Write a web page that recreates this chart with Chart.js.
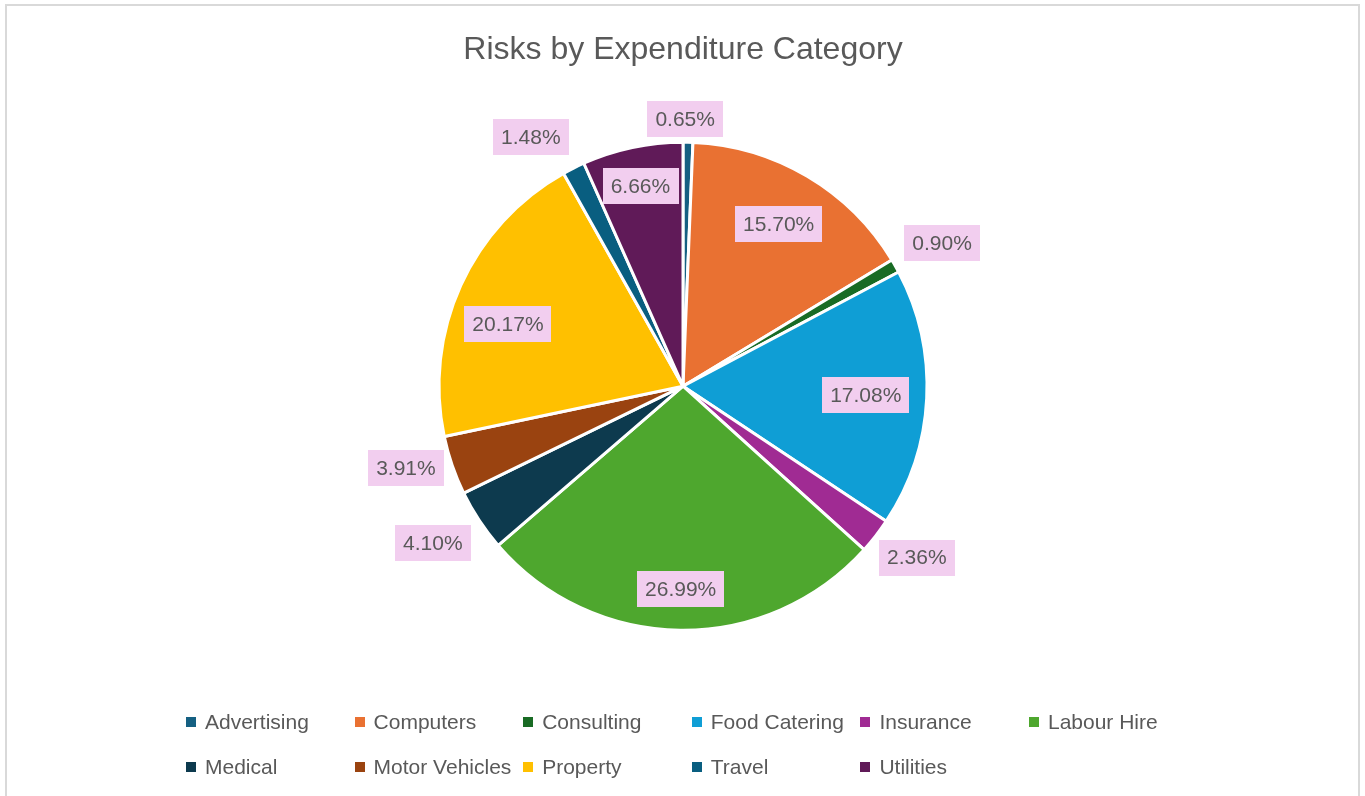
<!DOCTYPE html>
<html>
<head>
<meta charset="utf-8">
<title>Risks by Expenditure Category</title>
<script src="https://cdn.jsdelivr.net/npm/chart.js@4"></script>
<style>
  html, body { margin: 0; padding: 0; background: #fff; }
  body { width: 1365px; height: 796px; position: relative; overflow: hidden; font-family: 'Liberation Sans', Arial, sans-serif; }
  .frame { position: absolute; left: 5px; top: 4px; width: 1355px; height: 820px; border: 2px solid #d9d9d9; box-sizing: border-box; }
  #wrap { position: absolute; left: 0; top: 0; width: 1365px; height: 796px; }
  .legend { position: absolute; left: 186px; top: 699px; display: grid; grid-template-columns: repeat(6, 168.6px); grid-auto-rows: 45px; }
  .legend-item { display: flex; align-items: center; font-size: 21px; color: #595959; white-space: nowrap; }
  .legend-item i { display: inline-block; width: 10px; height: 10px; margin-right: 9px; }
</style>
</head>
<body>
<div class="frame"></div>
<div id="wrap"><canvas id="chart" width="1365" height="796"></canvas></div>
<div class="legend" id="legend"></div>
<script>
// data
const categories = ['Advertising', 'Computers', 'Consulting', 'Food Catering', 'Insurance', 'Labour Hire',
  'Medical', 'Motor Vehicles', 'Property', 'Travel', 'Utilities'];
const shares = [0.65, 15.70, 0.90, 17.08, 2.36, 26.99, 4.10, 3.91, 20.17, 1.48, 6.66];

const colors = ['#156082', '#E97132', '#196B24', '#0F9ED5', '#A02B93', '#4EA72E',
  '#0D3A4E', '#9A4310', '#FFC000', '#095E80', '#601A58'];
// label placement (Excel "best fit"): distance as fraction of radius, and a small angle shift in degrees
const labelRadius = [1.094, 0.77, 1.213, 0.75, 1.188, 0.83, 1.21, 1.184, 0.761, 1.196, 0.84];
const labelShift = [-0.7, 0, 0.6, 0, -1.6, 0, 1.3, 2.5, -4.9, -4.8, 0];

const textGrey = '#595959';
const FONT = "'Liberation Sans', Arial, sans-serif";

const pctLabels = {
  id: 'pctLabels',
  afterDatasetsDraw(chart) {
    const ctx = chart.ctx;
    const arcs = chart.getDatasetMeta(0).data;
    ctx.save();
    ctx.font = '21px ' + FONT;
    ctx.textAlign = 'center';
    ctx.textBaseline = 'middle';
    arcs.forEach((arc, i) => {
      const { x, y, startAngle, endAngle, outerRadius } = arc.getProps(['x', 'y', 'startAngle', 'endAngle', 'outerRadius'], true);
      const mid = (startAngle + endAngle) / 2 + labelShift[i] * Math.PI / 180;
      const r = outerRadius * labelRadius[i];
      const cx = x + Math.cos(mid) * r;
      const cy = y + Math.sin(mid) * r;
      const txt = shares[i].toFixed(2) + '%';
      const w = ctx.measureText(txt).width + 16;
      const h = 36;
      ctx.fillStyle = '#F2CEEF';
      ctx.fillRect(Math.round(cx - w / 2), Math.round(cy - h / 2), Math.round(w), h);
      ctx.fillStyle = textGrey;
      ctx.fillText(txt, cx, cy + 1);
    });
    ctx.restore();
  }
};

new Chart(document.getElementById('chart'), {
  type: 'pie',
  data: {
    labels: categories,
    datasets: [{
      data: shares,
      backgroundColor: colors,
      borderColor: '#ffffff',
      borderWidth: 3,
      hoverOffset: 0,
    }],
  },
  options: {
    responsive: false,
    animation: false,
    events: [],
    radius: 244,
    layout: { padding: { left: 1, right: 0, top: 0, bottom: 103 } },
    plugins: {
      legend: { display: false },
      tooltip: { enabled: false },
      title: {
        display: true,
        text: 'Risks by Expenditure Category',
        color: textGrey,
        font: { family: FONT, size: 32, weight: 'normal' },
        padding: { top: 31, bottom: 10 },
      },
    },
  },
  plugins: [pctLabels],
});

const legendEl = document.getElementById('legend');
categories.forEach((name, i) => {
  const item = document.createElement('div');
  item.className = 'legend-item';
  item.innerHTML = '<i style="background:' + colors[i] + '"></i>' + name;
  legendEl.appendChild(item);
});
</script>
</body>
</html>
